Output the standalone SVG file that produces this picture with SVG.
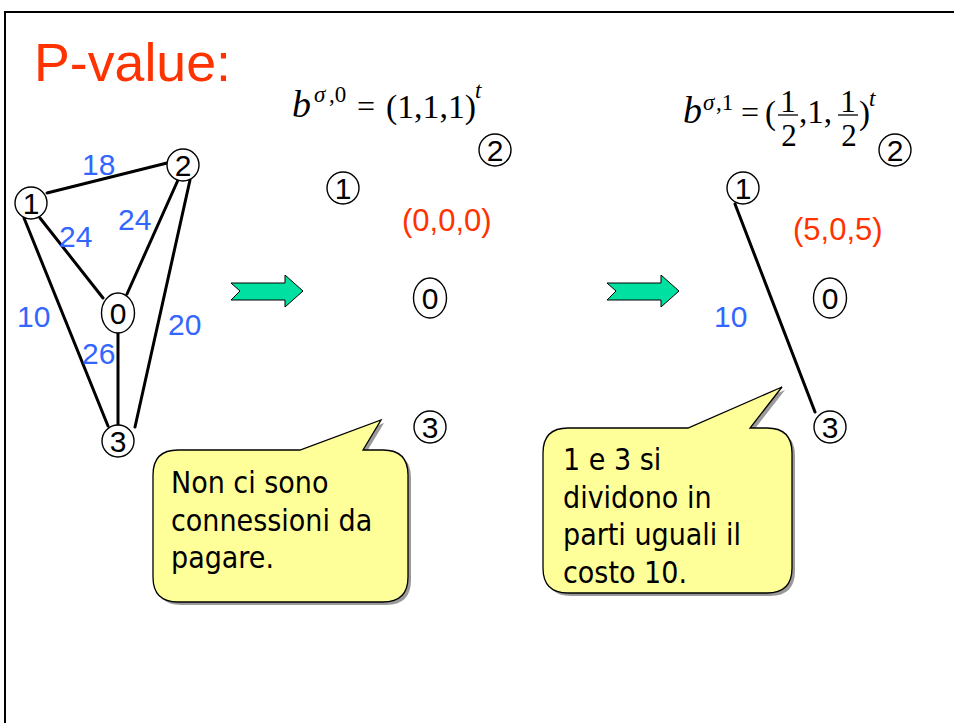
<svg xmlns="http://www.w3.org/2000/svg" width="954" height="723" viewBox="0 0 954 723">
<style>
.frame{stroke:#000;stroke-width:2;fill:none}
.node{fill:#fff;stroke:#000;stroke-width:1.4}
.nt{font-family:"Liberation Sans",Arial,sans-serif;font-size:30px;fill:#000;text-anchor:middle}
.edge{stroke:#000;stroke-width:3;fill:none;stroke-linecap:round}
.wt{font-family:"Liberation Sans",Arial,sans-serif;font-size:30px;fill:#3366FF}
.red{font-family:"Liberation Sans",Arial,sans-serif;font-size:31px;fill:#FF3300}
.math{font-family:"Liberation Serif","Times New Roman",serif;fill:#000}
.it{font-style:italic}
.arrow{fill:#00E0A0;stroke:#000;stroke-width:1}
.call{fill:#FFFF99;stroke:#000;stroke-width:1.3}
.shadow{fill:#9a9a9a}
.ct{font-family:"DejaVu Sans Condensed","DejaVu Sans",sans-serif;font-stretch:condensed;font-size:30px;fill:#000}
</style>
<rect width="954" height="723" fill="#fff"/>
<path class="frame" d="M4 12 H954 M5 11 V723"/>
<text x="34" y="81" font-family="Liberation Sans,Arial,sans-serif" font-size="53" fill="#FF3300" textLength="197" lengthAdjust="spacingAndGlyphs">P-value:</text>

<!-- formulas -->
<g id="formula0" class="math">
<text x="292" y="117" font-size="38" class="it">b</text>
<text x="314" y="102" font-size="23" class="it">σ</text>
<text x="329" y="102" font-size="23">,0</text>
<text x="357" y="117" font-size="32">=</text>
<text x="386" y="118" font-size="33" textLength="90" lengthAdjust="spacingAndGlyphs">(1,1,1)</text>
<text x="475" y="98" font-size="23" class="it">t</text>
</g>
<g id="formula1" class="math">
<text x="683" y="123" font-size="38" class="it">b</text>
<text x="703" y="110" font-size="23" class="it">σ</text>
<text x="716" y="110" font-size="23">,1</text>
<text x="741" y="123" font-size="32">=</text>
<text x="765" y="124" font-size="33">(</text>
<text x="788" y="112" font-size="31" text-anchor="middle">1</text>
<line x1="778" y1="115" x2="798" y2="115" stroke="#000" stroke-width="1.3"/>
<text x="789" y="146" font-size="31" text-anchor="middle">2</text>
<text x="799" y="123" font-size="33">,1,</text>
<text x="848" y="112" font-size="31" text-anchor="middle">1</text>
<line x1="838" y1="115" x2="858" y2="115" stroke="#000" stroke-width="1.3"/>
<text x="849" y="146" font-size="31" text-anchor="middle">2</text>
<text x="859" y="124" font-size="33">)</text>
<text x="869" y="106" font-size="23" class="it">t</text>
</g>

<!-- connectors -->
<g id="connectors">
<line class="edge" x1="47" y1="193" x2="167" y2="163"/>
<line class="edge" x1="40" y1="218" x2="103" y2="298"/>
<line class="edge" x1="24" y1="218" x2="108" y2="426"/>
<line class="edge" x1="178" y1="180" x2="127" y2="294"/>
<line class="edge" x1="190" y1="180" x2="135" y2="427"/>
<line class="edge" x1="118" y1="333" x2="118" y2="425"/>
<line class="edge" x1="735" y1="204" x2="815" y2="412" stroke-width="2.6"/>
<text class="wt" x="82" y="175">18</text>
<text class="wt" x="59" y="247">24</text>
<text class="wt" x="118" y="230">24</text>
<text class="wt" x="17" y="327">10</text>
<text class="wt" x="82" y="364">26</text>
<text class="wt" x="168" y="335">20</text>
<text class="wt" x="714" y="327">10</text>
</g>

<!-- left graph nodes -->
<g id="L1"><circle class="node" cx="31" cy="203" r="16"/><text class="nt" x="31" y="214">1</text></g>
<g id="L2"><circle class="node" cx="183" cy="165" r="16"/><text class="nt" x="183" y="176">2</text></g>
<g id="L0"><ellipse class="node" cx="118" cy="313" rx="16.5" ry="20"/><text class="nt" x="118" y="324">0</text></g>
<g id="L3"><circle class="node" cx="118" cy="441" r="16"/><text class="nt" x="118" y="452">3</text></g>

<!-- middle nodes -->
<g id="M1"><circle class="node" cx="343" cy="188" r="16"/><text class="nt" x="343" y="199">1</text></g>
<g id="M2"><circle class="node" cx="495" cy="150" r="16"/><text class="nt" x="495" y="161">2</text></g>
<g id="M0"><ellipse class="node" cx="430" cy="298" rx="16.5" ry="20"/><text class="nt" x="430" y="309">0</text></g>
<g id="M3"><circle class="node" cx="430" cy="427" r="16"/><text class="nt" x="430" y="438">3</text></g>
<text class="red" x="402" y="231">(0,0,0)</text>

<!-- right nodes -->
<g id="R1"><circle class="node" cx="743" cy="188" r="16"/><text class="nt" x="743" y="199">1</text></g>
<g id="R2"><circle class="node" cx="895" cy="150" r="16"/><text class="nt" x="895" y="161">2</text></g>
<g id="R0"><ellipse class="node" cx="830" cy="298" rx="16.5" ry="20"/><text class="nt" x="830" y="309">0</text></g>
<g id="R3"><circle class="node" cx="830" cy="427" r="16"/><text class="nt" x="830" y="438">3</text></g>
<text class="red" x="793" y="240">(5,0,5)</text>

<!-- arrows -->
<g id="arrow1"><path class="arrow" d="M231 283 H285 V275 L303 291 L285 307 V300 H231 L240 291 Z"/></g>
<g id="arrow2"><path class="arrow" d="M607 283 H661 V275 L679 291 L661 307 V300 H607 L616 291 Z"/></g>

<!-- callouts -->
<g id="callout1">
<path class="shadow" transform="translate(3,3)" d="M178 450 L300 450 L381 420 L363 450 L383 450 Q408 450 408 475 L408 577 Q408 602 383 602 L178 602 Q153 602 153 577 L153 475 Q153 450 178 450 Z"/>
<path class="call" d="M178 450 L300 450 L381 420 L363 450 L383 450 Q408 450 408 475 L408 577 Q408 602 383 602 L178 602 Q153 602 153 577 L153 475 Q153 450 178 450 Z"/>
<text class="ct" x="171" y="493">Non ci sono</text>
<text class="ct" x="171" y="531">connessioni da</text>
<text class="ct" x="171" y="568">pagare.</text>
</g>
<g id="callout2">
<path class="shadow" transform="translate(3,3)" d="M568 428 L688 428 L782 387 L750 428 L767 428 Q792 428 792 453 L792 568 Q792 593 767 593 L568 593 Q543 593 543 568 L543 453 Q543 428 568 428 Z"/>
<path class="call" d="M568 428 L688 428 L782 387 L750 428 L767 428 Q792 428 792 453 L792 568 Q792 593 767 593 L568 593 Q543 593 543 568 L543 453 Q543 428 568 428 Z"/>
<text class="ct" x="563" y="470">1 e 3 si</text>
<text class="ct" x="563" y="508">dividono in</text>
<text class="ct" x="563" y="545">parti uguali il</text>
<text class="ct" x="563" y="583">costo 10.</text>
</g>
</svg>
